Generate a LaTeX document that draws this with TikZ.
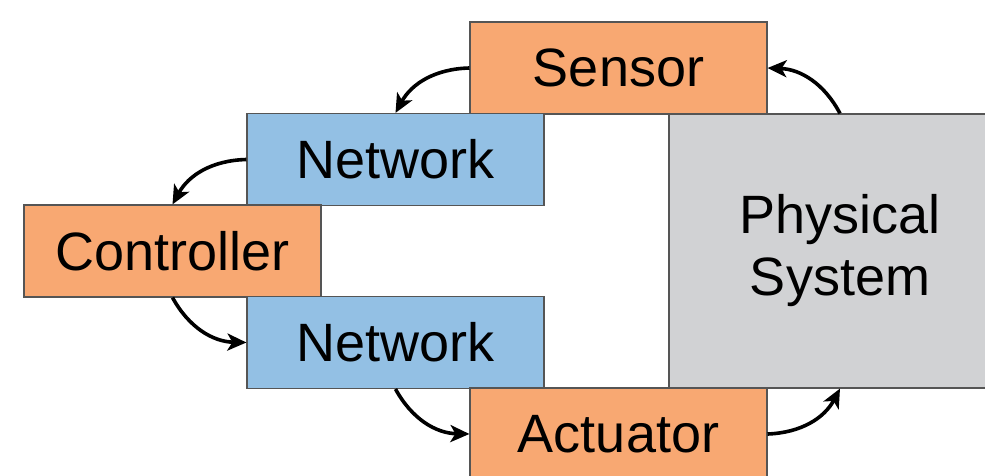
\documentclass[tikz,border=0pt]{standalone}
\usepackage{fontspec}
\setmainfont{Liberation Sans}
\usetikzlibrary{arrows.meta}
\definecolor{boxorange}{HTML}{F8A872}
\definecolor{boxblue}{HTML}{93C0E4}
\definecolor{boxgray}{HTML}{D1D2D4}
\definecolor{edgegray}{HTML}{555555}
\begin{document}
\begin{tikzpicture}[x=1pt,y=-1pt,
  blockbox/.style={draw=edgegray,line width=1.1pt,minimum width=297pt,minimum height=92pt,inner sep=0pt,
    font=\fontsize{54}{62}\selectfont,align=center},
  orangebox/.style={blockbox,fill=boxorange},
  bluebox/.style={blockbox,fill=boxblue},
  graybox/.style={blockbox,fill=boxgray,minimum width=342pt,minimum height=274pt},
  flow/.style={line width=3.6pt,-{Stealth[length=19pt,width=17pt,inset=5pt]},bend right=30}]
\useasboundingbox (0,0) rectangle (985,475);
\clip (0,0) rectangle (985,475);
\node[graybox] (phys) at (840,251) {Physical\\System};
\node[orangebox] (sensor) at (618.5,68) {Sensor};
\node[bluebox] (net1) at (395.5,159.5) {Network};
\node[orangebox] (ctrl) at (172.5,251) {Controller};
\node[bluebox] (net2) at (395.5,342.5) {Network};
\node[orangebox] (act) at (618.5,434) {Actuator};
\draw[flow] (sensor.west) to (net1.north);
\draw[flow] (net1.west) to (ctrl.north);
\draw[flow] (ctrl.south) to (net2.west);
\draw[flow] (net2.south) to (act.west);
\draw[flow] (act.east) to (phys.south);
\draw[flow] (phys.north) to (sensor.east);
\end{tikzpicture}
\end{document}
